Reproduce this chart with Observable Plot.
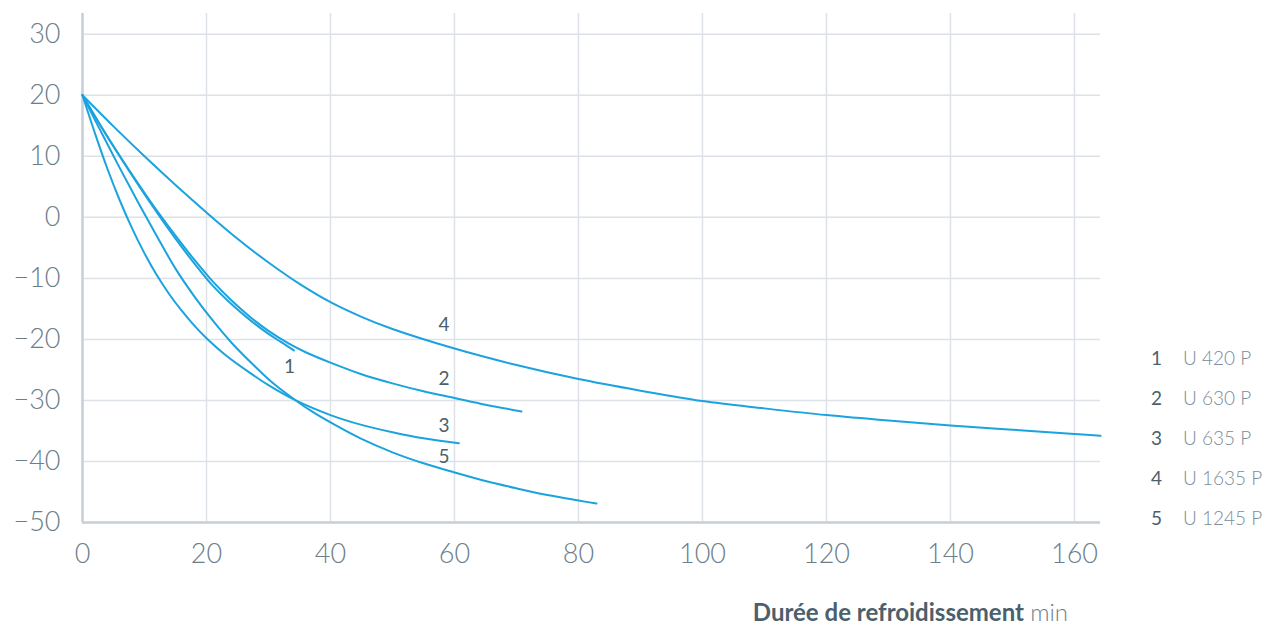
<!DOCTYPE html>
<html><head><meta charset="utf-8">
<script src="https://cdn.jsdelivr.net/npm/d3@7"></script>
<script src="https://cdn.jsdelivr.net/npm/@observablehq/plot@0.6"></script>
<style>
body{margin:0;background:#fff;font-family:Lato,"Open Sans",sans-serif;}
#wrap{position:relative;width:1265px;height:630px;}
#legend{position:absolute;left:1130px;top:337px;}
.row{display:flex;height:40px;align-items:center;font-size:19px;}
.num{width:32px;text-align:right;color:#4b5f6c;font-weight:400}
.lab{margin-left:21px;color:#7a8c98;font-weight:300}
#title{position:absolute;right:197px;top:597px;font-size:24px;line-height:30px;color:#4b5f6c;white-space:nowrap}
#title b{font-weight:700}
#title span{font-weight:300;color:#6b7e8a}
</style></head>
<body>
<div id="wrap"><div id="chart"></div><div id="legend"></div><div id="title"></div></div>
<script>
// Data (time in min, temperature in °C)
const t1 = [0, 3, 6, 9, 12, 15, 18, 21, 24, 27, 30, 32, 34.1];
const v1 = [20, 14.9, 10.0, 5.3, 0.8, -3.5, -7.5, -11.2, -14.2, -16.8, -19.1, -20.4, -21.8];
const t2 = [0, 3, 6, 9, 12, 15, 18, 21, 24, 27, 30, 33.3, 36, 40, 45, 50, 55, 60, 65, 70.8];
const v2 = [20, 14.9, 10.1, 5.5, 1.1, -3.0, -6.9, -10.5, -13.6, -16.3, -18.6, -20.7, -22.1, -23.8, -25.7, -27.2, -28.5, -29.6, -30.7, -31.8];
const t3 = [0, 2, 4, 6, 8, 10, 12, 14, 16, 18, 20, 23, 26.9, 30, 34.4, 40, 45, 50, 55, 60.7];
const v3 = [20, 13.8, 8.0, 2.8, -1.8, -5.9, -9.5, -12.6, -15.3, -17.7, -19.8, -22.5, -25.4, -27.5, -30.0, -32.4, -34.0, -35.2, -36.2, -37.0];
const t4 = [0, 5, 10, 15, 20, 25, 30, 35, 40, 45, 50, 60, 70, 80, 90, 100, 110, 120, 130, 140, 150, 160, 164.2];
const v4 = [20, 14.9, 10.0, 5.3, 0.8, -3.5, -7.4, -10.9, -13.9, -16.3, -18.3, -21.5, -24.2, -26.5, -28.4, -30.1, -31.3, -32.4, -33.3, -34.1, -34.8, -35.5, -35.8];
const t5 = [0, 3, 6, 9, 12, 15, 18, 21, 24, 28, 31, 34.4, 37, 40, 45, 50, 55, 60, 65, 70, 75, 80, 82.9];
const v5 = [20, 14.0, 8.1, 2.4, -3.1, -8.4, -12.9, -16.9, -20.5, -24.6, -27.4, -30.0, -31.8, -33.6, -36.3, -38.5, -40.3, -41.8, -43.2, -44.4, -45.5, -46.4, -46.9];

const seriesIds = ["1", "2", "3", "4", "5"];
const seriesNames = ["U 420 P", "U 630 P", "U 635 P", "U 1635 P", "U 1245 P"];
const labelT = [33.4, 58.3, 58.3, 58.3, 58.3];
const labelV = [-24.5, -26.4, -34.1, -17.7, -39.2];
const xTicks = [0, 20, 40, 60, 80, 100, 120, 140, 160];
const yTicks = [-50, -40, -30, -20, -10, 0, 10, 20, 30];
const xTitle = "Durée de refroidissement";
const xUnit = "min";

const ts = [t1, t2, t3, t4, t5], vs = [v1, v2, v3, v4, v5];
const data = [];
seriesIds.forEach((id, i) => ts[i].forEach((t, j) => data.push({s: id, t, v: vs[i][j]})));
const labels = seriesIds.map((id, i) => ({s: id, t: labelT[i], v: labelV[i]}));

const blue = "#1ba3df", ink = "#4b5f6c", tick = "#6b7e8a";

const chart = Plot.plot({
  width: 1265, height: 575,
  marginLeft: 82, marginRight: 165, marginTop: 13, marginBottom: 53,
  style: {fontFamily: "Lato, 'Open Sans', sans-serif", fontSize: "27px", color: tick, background: "transparent", fontWeight: 300},
  x: {domain: [0, 164.2]},
  y: {domain: [-50, 33.4]},
  marks: [
    Plot.gridX(xTicks, {stroke: "#dce2e8", strokeOpacity: 1, strokeWidth: 1.5}),
    Plot.gridY(yTicks, {stroke: "#dce2e8", strokeOpacity: 1, strokeWidth: 1.5}),
    Plot.ruleX([0], {stroke: "#c6d0d8", strokeWidth: 2.5}),
    Plot.ruleY([-50], {stroke: "#c6d0d8", strokeWidth: 2.5}),
    Plot.axisX(xTicks, {tickSize: 0, tickPadding: 21, label: null, fill: tick, fontSize: 27}),
    Plot.axisY(yTicks, {tickSize: 0, tickPadding: 22, label: null, fill: tick, fontSize: 27}),
    Plot.line(data, {x: "t", y: "v", z: "s", stroke: blue, strokeWidth: 2, curve: "catmull-rom"}),
    Plot.text(labels, {x: "t", y: "v", text: "s", fill: ink, fontSize: 19, fontWeight: 400})
  ]
});
document.getElementById("chart").appendChild(chart);

const legend = document.getElementById("legend");
seriesIds.forEach((id, i) => {
  const row = document.createElement("div");
  row.className = "row";
  row.innerHTML = `<span class="num">${id}</span><span class="lab">${seriesNames[i]}</span>`;
  legend.appendChild(row);
});
document.getElementById("title").innerHTML = `<b>${xTitle}</b> <span>${xUnit}</span>`;
</script>
</body></html>
